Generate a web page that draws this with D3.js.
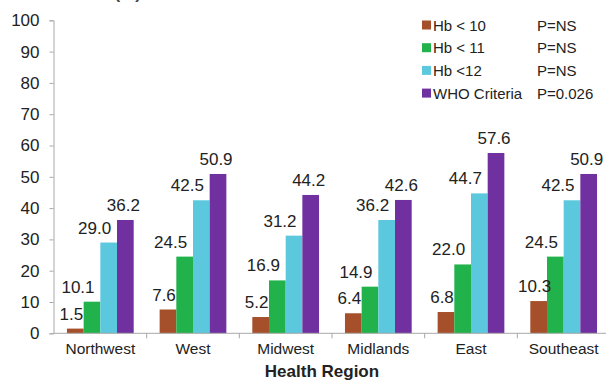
<!DOCTYPE html>
<html>
<head>
<meta charset="utf-8">
<script src="https://cdn.jsdelivr.net/npm/d3@7"></script>
<style>
  html, body { margin: 0; padding: 0; background: #fff; }
  svg { display: block; font-family: Arial, "Liberation Sans", sans-serif; }
</style>
</head>
<body>
<svg id="chart" width="606" height="380"></svg>
<script>
const regions = ["Northwest", "West", "Midwest", "Midlands", "East", "Southeast"];
const seriesNames = ["Hb < 10", "Hb < 11", "Hb <12", "WHO Criteria"];
const pValues = ["P=NS", "P=NS", "P=NS", "P=0.026"];
const hbLt10 = [1.5, 7.6, 5.2, 6.4, 6.8, 10.3];
const hbLt11 = [10.1, 24.5, 16.9, 14.9, 22.0, 24.5];
const hbLt12 = [29.0, 42.5, 31.2, 36.2, 44.7, 42.5];
const who = [36.2, 50.9, 44.2, 42.6, 57.6, 50.9];
const yTicks = [0, 10, 20, 30, 40, 50, 60, 70, 80, 90, 100];

const seriesValues = [hbLt10, hbLt11, hbLt12, who];
const colors = ["#a5502a", "#22b24c", "#5cc8de", "#7030a0"];
const labelDx = [-4, -14, -14, -2];

const svg = d3.select("#chart");
const x0 = d3.scaleBand().domain(regions).range([54, 610]).paddingInner(0.28).paddingOuter(0.14);
const x1 = d3.scaleBand().domain(d3.range(seriesNames.length)).range([0, x0.bandwidth()]);
const y = d3.scaleLinear().domain([0, 100]).range([333.3, 20.3]);

// title, cut off at the top edge as in the reference
svg.append("text").attr("x", 20).attr("y", -1).attr("font-size", 17).attr("font-weight", "bold")
  .attr("fill", "#444").text("Prevalence (%)");

// bars
const groups = svg.append("g").selectAll("g").data(regions).join("g")
  .attr("transform", d => `translate(${x0(d)},0)`);
groups.selectAll("rect")
  .data((r, i) => seriesValues.map((s, k) => ({k, v: s[i]})))
  .join("rect")
  .attr("x", d => x1(d.k))
  .attr("width", x1.bandwidth())
  .attr("y", d => y(d.v))
  .attr("height", d => y(0) - y(d.v))
  .attr("fill", d => colors[d.k]);
groups.selectAll("text")
  .data((r, i) => seriesValues.map((s, k) => ({k, v: s[i]})))
  .join("text")
  .attr("x", d => x1(d.k) + x1.bandwidth() / 2 + labelDx[d.k])
  .attr("y", d => y(d.v) - 9)
  .attr("text-anchor", "middle")
  .attr("font-size", 17)
  .attr("fill", "#222")
  .text(d => d.v.toFixed(1));

// y axis
const yAxis = svg.append("g").attr("transform", "translate(53.5,0)")
  .call(d3.axisLeft(y).tickValues(yTicks).tickSize(4).tickPadding(10));
yAxis.select(".domain").attr("stroke", "#a8a8a8");
yAxis.selectAll(".tick line").attr("stroke", "#a8a8a8");
yAxis.selectAll(".tick text").attr("font-size", 17).attr("fill", "#222")
  .attr("font-family", "Arial, 'Liberation Sans', sans-serif");

// x axis
const xg = svg.append("g").attr("transform", `translate(0,${y(0)})`);
xg.append("line").attr("x1", 53.5).attr("x2", 606).attr("stroke", "#a8a8a8");
const step = x0.step();
regions.forEach((r, i) => {
  const bx = x0(r) - x0.paddingInner() * step / 2 + step;
  xg.append("line").attr("x1", bx).attr("x2", bx).attr("y1", 0).attr("y2", 5).attr("stroke", "#a8a8a8");
});
xg.selectAll("text.cat").data(regions).join("text").attr("class", "cat")
  .attr("x", d => x0(d) + x0.bandwidth() / 2)
  .attr("y", 21)
  .attr("text-anchor", "middle")
  .attr("font-size", 15.5)
  .attr("fill", "#222")
  .text(d => d);

svg.append("text").attr("x", 322).attr("y", 377).attr("text-anchor", "middle")
  .attr("font-size", 17).attr("font-weight", "bold").attr("fill", "#222").text("Health Region");

// legend
const leg = svg.append("g").selectAll("g").data(seriesNames).join("g")
  .attr("transform", (d, i) => `translate(422,${25 + i * 22.7})`);
leg.append("rect").attr("x", 0).attr("y", -4.5).attr("width", 9).attr("height", 9)
  .attr("fill", (d, i) => colors[i]);
leg.append("text").attr("x", 11).attr("y", 5.5).attr("font-size", 15).attr("fill", "#222").text(d => d);
leg.append("text").attr("x", 115).attr("y", 5.5).attr("font-size", 15).attr("fill", "#222")
  .text((d, i) => pValues[i]);
</script>
</body>
</html>
